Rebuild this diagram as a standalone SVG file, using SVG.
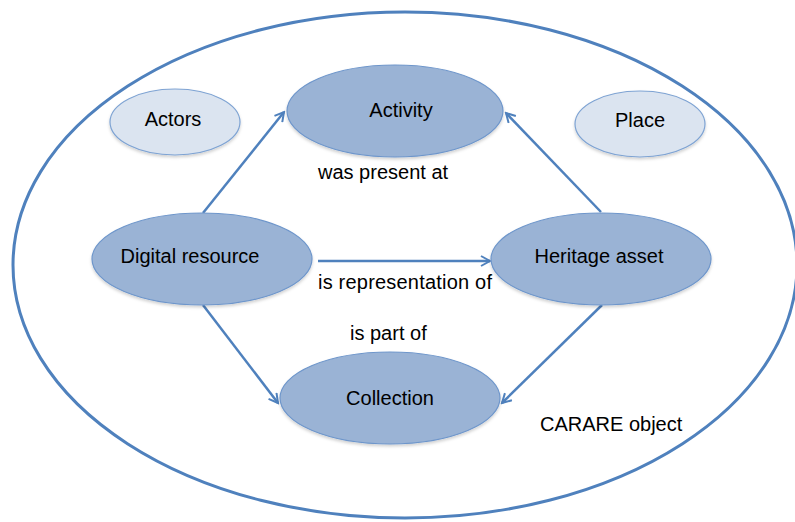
<svg xmlns="http://www.w3.org/2000/svg" width="795" height="522" viewBox="0 0 795 522">
<defs>
<style>
.t{font-family:"Liberation Sans",Arial,sans-serif;font-size:20px;fill:#000}
.c{text-anchor:middle}
.dark{fill:#9AB3D5;stroke:#6E96CB;stroke-width:1.2}
.light{fill:#DBE4F0;stroke:#7EA3D3;stroke-width:1.2}
.edge{stroke:#4F81BD;stroke-width:2.5;fill:none}
</style>
<marker id="ah" markerWidth="12" markerHeight="12" refX="10" refY="6" orient="auto" markerUnits="userSpaceOnUse">
<path d="M1,1 L10,6 L1,11" fill="none" stroke="#4F81BD" stroke-width="2"/>
</marker>
<filter id="sh" x="-10%" y="-10%" width="120%" height="130%">
<feDropShadow dx="0" dy="2" stdDeviation="1.5" flood-color="#000" flood-opacity="0.18"/>
</filter>
</defs>
<rect width="795" height="522" fill="#fff"/>
<g id="carare">
<ellipse cx="405" cy="265" rx="392" ry="253" fill="none" stroke="#4F81BD" stroke-width="3"/>
<text class="t" x="540" y="431">CARARE object</text>
</g>
<g id="edges">
<line class="edge" x1="203" y1="213" x2="284" y2="112" marker-end="url(#ah)"/>
<line class="edge" x1="601" y1="212" x2="506" y2="113" marker-end="url(#ah)"/>
<line class="edge" x1="318" y1="261" x2="490" y2="261" marker-end="url(#ah)"/>
<line class="edge" x1="203" y1="305" x2="278" y2="403" marker-end="url(#ah)"/>
<line class="edge" x1="602" y1="305" x2="502" y2="403" marker-end="url(#ah)"/>
<text class="t" x="318" y="179">was present at</text>
<text class="t" x="318" y="289" textLength="174">is representation of</text>
<text class="t" x="350" y="340">is part of</text>
</g>
<g id="actors">
<ellipse class="light" filter="url(#sh)" cx="175" cy="122" rx="65" ry="33"/>
<text class="t c" x="173" y="126">Actors</text>
</g>
<g id="place">
<ellipse class="light" filter="url(#sh)" cx="640" cy="124" rx="65" ry="33"/>
<text class="t c" x="640" y="127">Place</text>
</g>
<g id="activity">
<ellipse class="dark" filter="url(#sh)" cx="395" cy="111" rx="108" ry="46"/>
<text class="t c" x="401" y="117">Activity</text>
</g>
<g id="digital">
<ellipse class="dark" filter="url(#sh)" cx="202" cy="259" rx="110" ry="46"/>
<text class="t c" x="190" y="263">Digital resource</text>
</g>
<g id="heritage">
<ellipse class="dark" filter="url(#sh)" cx="601" cy="259" rx="110" ry="46"/>
<text class="t c" x="599" y="263">Heritage asset</text>
</g>
<g id="collection">
<ellipse class="dark" filter="url(#sh)" cx="390" cy="398" rx="110" ry="46"/>
<text class="t c" x="390" y="405">Collection</text>
</g>
</svg>
